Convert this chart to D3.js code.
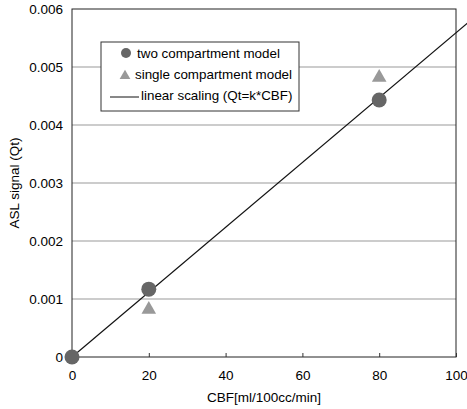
<!DOCTYPE html>
<head>
  <script src="https://d3js.org/d3.v7.min.js"></script>
  <meta charset='utf-8'>
  <style>
    body { margin: 0; background: #fff; }
    svg text { font-family: "Liberation Sans", Arial, Helvetica; fill: #000; }
  </style>
</head>
<body>
<div id="chart"></div>
<script>
// data
var cbf = [0, 20, 80];
var twoComp = [0, 0.00117, 0.00443];
var singleCompX = [20, 80];
var singleComp = [0.00082, 0.00482];
var k = 0.0000559;
var lineX = [0, 110];
var xTicks = [0, 20, 40, 60, 80, 100];
var yTicks = [0, 0.001, 0.002, 0.003, 0.004, 0.005, 0.006];
var legendLabels = ["two compartment model", "single compartment model", "linear scaling (Qt=k*CBF)"];

var W = 467, H = 409;
var margin = {top: 9, right: 11, bottom: 52, left: 72};
var width = W - margin.left - margin.right,
    height = H - margin.top - margin.bottom;

var svg = d3.select("#chart").append("svg")
    .attr("width", W)
    .attr("height", H);

var g = svg.append("g")
    .attr("transform", `translate(${margin.left},${margin.top})`);

var x = d3.scaleLinear().domain([0, 100]).range([0, width]);
var y = d3.scaleLinear().domain([0, 0.006]).range([height, 0]);

// gridlines
g.selectAll(".grid").data(yTicks.filter(d => d > 0 && d < 0.006))
  .enter().append("line")
    .attr("x1", 0).attr("x2", width)
    .attr("y1", d => y(d)).attr("y2", d => y(d))
    .attr("stroke", "#999").attr("stroke-width", 1.2);

// frame
g.append("rect")
  .attr("width", width).attr("height", height)
  .attr("fill", "none").attr("stroke", "#222").attr("stroke-width", 1);

// x axis
var xAxis = g.append("g")
  .attr("transform", `translate(0,${height})`)
  .call(d3.axisBottom(x).tickValues(xTicks).tickSize(-4).tickPadding(12).tickFormat(d3.format("d")));
xAxis.select(".domain").remove();
xAxis.selectAll("line").attr("stroke", "#333");
xAxis.selectAll("text").attr("font-size", 13.5).attr("dy", "0.8em");

// y axis
var yAxis = g.append("g")
  .call(d3.axisLeft(y).tickValues(yTicks).tickSize(0).tickPadding(9)
    .tickFormat(d => d === 0 ? "0" : d3.format(".3f")(d)));
yAxis.select(".domain").remove();
yAxis.selectAll("text").attr("font-size", 13.5);

// linear scaling line (runs past the frame)
g.append("line")
  .attr("x1", x(lineX[0])).attr("y1", y(k * lineX[0]))
  .attr("x2", x(lineX[1])).attr("y2", y(k * lineX[1]))
  .attr("stroke", "#111").attr("stroke-width", 1.2);

// single compartment triangles
var tri = d3.symbol().type(d3.symbolTriangle).size(92);
g.selectAll(".tri").data(singleCompX)
  .enter().append("path")
    .attr("d", tri)
    .attr("transform", (d, i) => `translate(${x(d)},${y(singleComp[i])})`)
    .attr("fill", "#999");

// two compartment circles
g.selectAll(".dot").data(cbf)
  .enter().append("circle")
    .attr("cx", d => x(d))
    .attr("cy", (d, i) => y(twoComp[i]))
    .attr("r", 7.5)
    .attr("fill", "#666");

// axis titles
svg.append("text")
  .attr("x", margin.left + width / 2).attr("y", 402)
  .attr("text-anchor", "middle").attr("font-size", 13.5)
  .text("CBF[ml/100cc/min]");
svg.append("text")
  .attr("transform", `translate(19,${margin.top + height / 2}) rotate(-90)`)
  .attr("text-anchor", "middle").attr("font-size", 13.5)
  .text("ASL signal (Qt)");

// legend
var leg = svg.append("g").attr("transform", "translate(101,42)");
leg.append("rect")
  .attr("width", 198).attr("height", 69)
  .attr("fill", "#fff").attr("stroke", "#333").attr("stroke-width", 1);
leg.append("circle").attr("cx", 25).attr("cy", 11).attr("r", 5).attr("fill", "#666");
leg.append("path").attr("d", d3.symbol().type(d3.symbolTriangle).size(50))
  .attr("transform", "translate(24,34)").attr("fill", "#999");
leg.append("line").attr("x1", 9).attr("x2", 38).attr("y1", 55).attr("y2", 55)
  .attr("stroke", "#111").attr("stroke-width", 1);
var lx = [36, 34, 40];
leg.selectAll(".lt").data(legendLabels)
  .enter().append("text")
    .attr("x", (d, i) => lx[i])
    .attr("y", (d, i) => 16 + i * 21)
    .attr("font-size", 13.4)
    .text(d => d);
</script>
</body>
